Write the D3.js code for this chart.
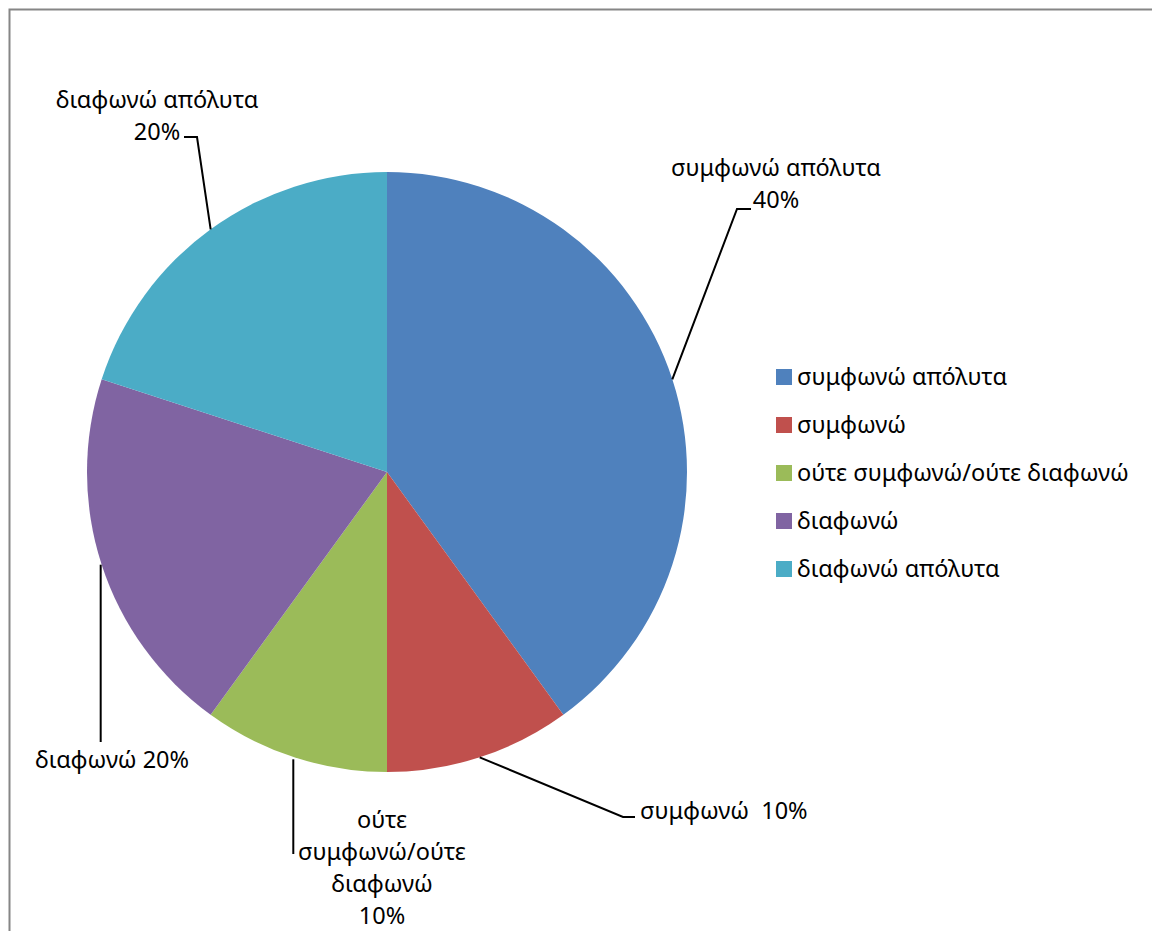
<!DOCTYPE html>
<html>
<head>
<meta charset="utf-8">
<script src="https://cdn.jsdelivr.net/npm/d3@7"></script>
<style>
  html, body { margin: 0; padding: 0; background: #fff; }
  svg { display: block; }
  text { font-family: "Noto Sans", sans-serif; fill: #000; }
</style>
</head>
<body>
<svg id="chart" width="1152" height="931"></svg>
<script>
// Survey answers and their shares (%)
const categories = ["συμφωνώ απόλυτα", "συμφωνώ", "ούτε συμφωνώ/ούτε διαφωνώ", "διαφωνώ", "διαφωνώ απόλυτα"];
const values = [40, 10, 10, 20, 20];
const colors = ["#4F81BD", "#C0504D", "#9BBB59", "#8064A2", "#4BACC6"];
// Data-label text lines (the percentage line is appended from values)
const labelLines = [
  ["συμφωνώ απόλυτα"],
  ["συμφωνώ "],
  ["ούτε", "συμφωνώ/ούτε", "διαφωνώ"],
  ["διαφωνώ"],
  ["διαφωνώ απόλυτα"]
];

const svg = d3.select("#chart");
const W = 1152, H = 931;

// Chart frame
svg.append("rect")
  .attr("x", 9.5).attr("y", 9.5)
  .attr("width", W + 20).attr("height", H + 20)
  .attr("fill", "#fff").attr("stroke", "#868686").attr("stroke-width", 2);

const cx = 387, cy = 472, R = 300;
const data = categories.map((c, i) => ({ cat: c, value: values[i], color: colors[i], lines: labelLines[i] }));

const pie = d3.pie().value(d => d.value).sort(null);
const arcs = pie(data);
const arc = d3.arc().innerRadius(0).outerRadius(R);

const g = svg.append("g").attr("transform", `translate(${cx},${cy})`);
g.selectAll("path.slice")
  .data(arcs)
  .join("path")
  .attr("class", "slice")
  .attr("d", arc)
  .attr("fill", d => d.data.color);

const fs = 23.5;
const lh = 32;

// Data labels with leader lines (coordinates relative to the pie centre)
const outer = d3.arc().innerRadius(R).outerRadius(R);
arcs.forEach((a, i) => {
  const [ex, ey] = outer.centroid(a);
  const pct = Math.round(a.data.value) + "%";
  let pts, tx, ty, anchor, lines;
  if (i === 0) {
    pts = [[ex, ey], [350, -263], [364, -263]];
    anchor = "middle"; tx = 389; lines = [a.data.lines[0], pct]; ty = -296;
  } else if (i === 1) {
    pts = [[ex, ey], [236, 345], [248, 345]];
    anchor = "start"; tx = 253; lines = [a.data.lines[0] + " " + pct]; ty = 347;
  } else if (i === 2) {
    pts = [[ex - 1, ey + 2], [ex - 1, 382]];
    anchor = "middle"; tx = -5; lines = a.data.lines.concat([pct]); ty = 356;
  } else if (i === 3) {
    pts = [[ex - 1, ey], [ex - 1, 270]];
    anchor = "start"; tx = -352; lines = [a.data.lines[0] + " " + pct]; ty = 296;
  } else {
    pts = [[ex, ey], [-190, -335], [-203, -335]];
    anchor = "middle"; tx = -230; lines = [a.data.lines[0], pct]; ty = -364;
  }
  g.append("path")
    .attr("d", d3.line()(pts))
    .attr("fill", "none").attr("stroke", "#000").attr("stroke-width", 2);
  const t = g.append("text")
    .attr("text-anchor", anchor)
    .attr("font-size", fs)
    .attr("xml:space", "preserve")
    .style("white-space", "pre");
  lines.forEach((ln, k) => {
    t.append("tspan").attr("x", tx).attr("y", ty + k * lh).text(ln);
  });
});

// Legend
const lg = svg.append("g").attr("transform", "translate(776,369)");
const rowH = 48;
const items = lg.selectAll("g.item").data(data).join("g")
  .attr("class", "item")
  .attr("transform", (d, i) => `translate(0,${i * rowH})`);
items.append("rect").attr("width", 16).attr("height", 16).attr("fill", d => d.color);
items.append("text").attr("x", 21).attr("y", 16).attr("font-size", fs).text(d => d.cat);
</script>
</body>
</html>
